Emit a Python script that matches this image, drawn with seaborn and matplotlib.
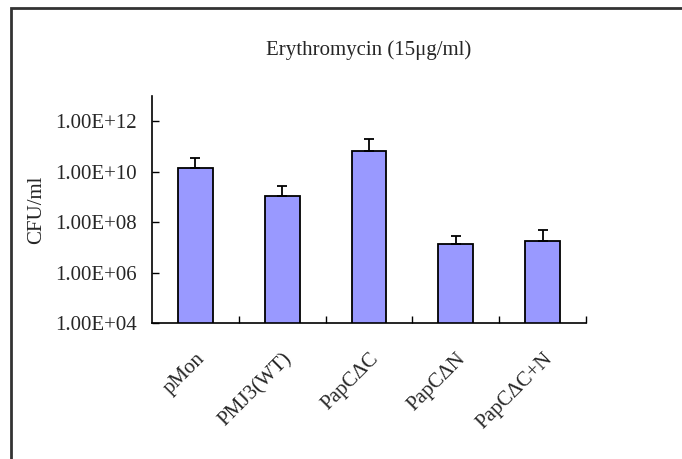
import matplotlib
matplotlib.use("Agg")
import matplotlib.pyplot as plt
import matplotlib.ticker as mticker
import matplotlib.transforms as mtransforms
from matplotlib.patches import Rectangle
import seaborn as sns
import pandas as pd
import numpy as np

categories = ["pMon", "PMJ3(WT)", "PapCΔC", "PapCΔN", "PapCΔC+N"]
values = [1.35e10, 1.07e9, 6.5e10, 1.35e7, 1.8e7]
upper_ends = [3.5e10, 2.8e9, 1.95e11, 2.9e7, 4.8e7]
ytick_values = [1e4, 1e6, 1e8, 1e10, 1e12]
ytick_labels = ["1.00E+04", "1.00E+06", "1.00E+08", "1.00E+10", "1.00E+12"]
title = "Erythromycin (15μg/ml)"
ylabel = "CFU/ml"

sns.set_theme(style="white")
plt.rcParams["font.family"] = ["Liberation Serif", "DejaVu Serif"]
FS = 15

fig = plt.figure(figsize=(6.82, 4.59), dpi=100)
ax = fig.add_axes([152/682, 1-323/459, (586-152)/682, (323-96)/459])

df = pd.DataFrame({"cat": categories, "val": values})
sns.barplot(data=df, x="cat", y="val", ax=ax, color="#9999FF",
            saturation=1, width=0.4, edgecolor="black", linewidth=1.3,
            errorbar=None)
ax.set_yscale("log")
ax.set_ylim(1e4, 1e13)
ax.set_xlim(-0.5, 4.5)

err_up = np.array(upper_ends) - np.array(values)
ax.errorbar(np.arange(len(values)), values,
            yerr=[np.zeros(len(values)), err_up],
            fmt="none", ecolor="black", elinewidth=1.3, capsize=3.5, capthick=1.3)

ax.yaxis.set_major_locator(mticker.FixedLocator(ytick_values))
ax.yaxis.set_major_formatter(mticker.FixedFormatter(ytick_labels))
ax.yaxis.set_minor_locator(mticker.NullLocator())
ax.tick_params(axis="y", which="major", direction="in", length=5, width=1,
               color="black", labelsize=FS, pad=11, left=True)

ax.set_xticks(range(len(categories)))
ax.set_xticklabels(categories, rotation=45, ha="right", va="center",
                   rotation_mode="anchor")
ax.tick_params(axis="x", which="major", length=0, labelsize=FS, pad=24)
offset = mtransforms.ScaledTranslation(5/72, 0, fig.dpi_scale_trans)
for lbl in ax.get_xticklabels():
    lbl.set_transform(lbl.get_transform() + offset)
ax.xaxis.set_minor_locator(mticker.FixedLocator([0.5, 1.5, 2.5, 3.5, 4.5]))
ax.tick_params(axis="x", which="minor", direction="in", length=5, width=1,
               color="black", bottom=True)

for s in ["top", "right"]:
    ax.spines[s].set_visible(False)
for s in ["left", "bottom"]:
    ax.spines[s].set_color("black")
    ax.spines[s].set_linewidth(1.2)

ax.set_xlabel("")
ax.set_ylabel("")
fig.text(37/682, 1-210/459, ylabel, rotation=90, fontsize=FS,
         ha="center", va="center")
fig.text(369/682, 1-50/459, title, fontsize=FS, ha="center", va="center")
ax.set_facecolor("white")

fig.patches.append(Rectangle((11/682, -0.1), 1.2, 1.1 - 8/459,
                             transform=fig.transFigure, fill=False,
                             edgecolor="#333333", linewidth=2))

fig.savefig("out.png", dpi=100, facecolor="white")
